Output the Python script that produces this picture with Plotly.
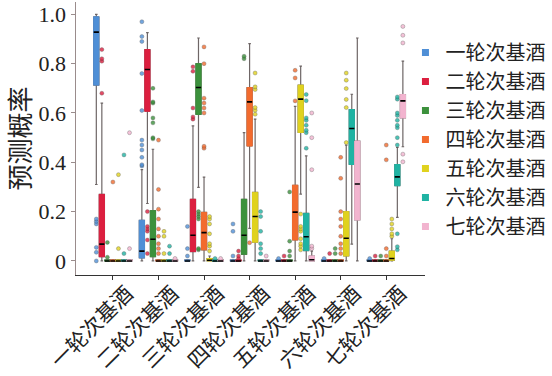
import plotly.graph_objects as go

categories = ["一轮次基酒", "二轮次基酒", "三轮次基酒", "四轮次基酒",
              "五轮次基酒", "六轮次基酒", "七轮次基酒"]
series = categories[:]
colors = ["#4f8fd6", "#dc1f3f", "#3c913c", "#f26b2e", "#e0d21e", "#1fb3a3", "#f2b4cf"]

# rows = series (predicted class), columns = category (true class)
LOWER = [
    [0.31, 0.0, 0.0, 0.0, 0.0, 0.0, 0.0],
    [0.0, 0.233, 0.0, 0.0, 0.0, 0.0, 0.0],
    [0.0, 0.0, 0.298, 0.0, 0.0, 0.0, 0.0],
    [0.0, 0.0, 0.0, 0.132, 0.0, 0.0, 0.0],
    [0.0, 0.0, 0.0, 0.0, 0.271, 0.0, 0.0],
    [0.0, 0.0, 0.0, 0.0, 0.0, 0.068, 0.177],
    [0.0, 0.0, 0.0, 0.0, 0.0, 0.0, 0.463],
]
Q1 = [
    [0.713, 0.012, 0.0, 0.0, 0.0, 0.0, 0.0],
    [0.017, 0.607, 0.038, 0.0, 0.0, 0.0, 0.0],
    [0.0, 0.017, 0.594, 0.027, 0.0, 0.0, 0.0],
    [0.0, 0.0, 0.045, 0.466, 0.085, 0.0, 0.0],
    [0.0, 0.0, 0.0, 0.076, 0.521, 0.02, 0.003],
    [0.0, 0.0, 0.0, 0.0, 0.042, 0.391, 0.305],
    [0.0, 0.0, 0.0, 0.0, 0.0, 0.166, 0.58],
]
MEDIAN = [
    [0.928, 0.04, 0.0, 0.0, 0.0, 0.0, 0.0],
    [0.068, 0.776, 0.104, 0.0, 0.0, 0.0, 0.0],
    [0.0, 0.088, 0.703, 0.104, 0.0, 0.0, 0.0],
    [0.0, 0.0, 0.115, 0.645, 0.198, 0.0, 0.0],
    [0.0, 0.0, 0.003, 0.18, 0.656, 0.092, 0.01],
    [0.0, 0.0, 0.0, 0.0, 0.098, 0.537, 0.341],
    [0.0, 0.0, 0.0, 0.0, 0.005, 0.312, 0.649],
]
Q3 = [
    [0.99, 0.165, 0.004, 0.004, 0.004, 0.004, 0.004],
    [0.27, 0.857, 0.25, 0.004, 0.004, 0.004, 0.004],
    [0.004, 0.204, 0.80, 0.25, 0.004, 0.004, 0.004],
    [0.004, 0.004, 0.197, 0.703, 0.307, 0.004, 0.004],
    [0.004, 0.004, 0.01, 0.278, 0.713, 0.20, 0.04],
    [0.004, 0.004, 0.004, 0.004, 0.193, 0.614, 0.391],
    [0.004, 0.004, 0.004, 0.004, 0.02, 0.486, 0.675],
]
UPPER = [
    [1.0, 0.37, 0.005, 0.005, 0.005, 0.005, 0.005],
    [0.64, 0.926, 0.548, 0.005, 0.005, 0.005, 0.005],
    [0.005, 0.453, 0.904, 0.52, 0.005, 0.005, 0.005],
    [0.005, 0.005, 0.34, 0.881, 0.627, 0.005, 0.005],
    [0.005, 0.005, 0.02, 0.575, 0.79, 0.47, 0.09],
    [0.005, 0.005, 0.005, 0.005, 0.426, 0.676, 0.46],
    [0.005, 0.005, 0.005, 0.005, 0.04, 0.904, 0.81],
]
OUTLIERS = [
    [[0.17, 0.16, 0.15, 0.055, 0.035, 0.0],
     [0.97, 0.91, 0.89, 0.76, 0.61, 0.49, 0.47, 0.45, 0.42, 0.39, 0.385],
     [0.14, 0.05, 0.02], [0.15, 0.12, 0.02], [0.01], [0.01], [0.01]],
    [[0.857, 0.82, 0.81, 0.68],
     [0.2, 0.14, 0.13, 0.12, 0.085, 0.03],
     [0.787, 0.769, 0.62, 0.584, 0.575],
     [0.04, 0.02, 0.01], [0.02], [0.03], [0.02]],
    [[0.075, 0.015],
     [0.70, 0.645, 0.64, 0.58, 0.56, 0.50, 0.495],
     [0.2, 0.19, 0.18, 0.17, 0.05, 0.045],
     [0.83, 0.82], [0.28, 0.08, 0.04, 0.02], [0.05, 0.03], [0.02]],
    [[0.32], [0.49, 0.29, 0.21, 0.17, 0.13, 0.1, 0.07, 0.05, 0.03],
     [0.868, 0.80, 0.66, 0.64, 0.62, 0.60, 0.465, 0.457],
     [0.074], [0.773, 0.742, 0.649],
     [0.42, 0.335, 0.2, 0.17, 0.14, 0.1, 0.07, 0.05, 0.03],
     [0.47, 0.41, 0.05, 0.02]],
    [[0.35, 0.05], [0.12, 0.1, 0.03],
     [0.18, 0.17, 0.15, 0.11, 0.07, 0.06, 0.04],
     [0.762, 0.706, 0.695, 0.622, 0.611, 0.595],
     [0.19, 0.14, 0.13, 0.12, 0.09, 0.07, 0.06, 0.045],
     [0.762, 0.733, 0.699, 0.655, 0.622, 0.48],
     [0.17, 0.15, 0.13, 0.11, 0.1]],
    [[0.43, 0.03], [0.06, 0.03], [0.01],
     [0.2, 0.18, 0.12, 0.07, 0.05, 0.03],
     [0.675, 0.65, 0.58, 0.57, 0.55, 0.53, 0.52, 0.457],
     [],
     [0.665, 0.656, 0.6, 0.59, 0.57, 0.55, 0.54, 0.5, 0.47, 0.11, 0.058, 0.045]],
    [[0.52, 0.05], [0.01], [0.01], [0.02], [0.6, 0.5, 0.37, 0.06, 0.05], [],
     [0.951, 0.915, 0.884, 0.433, 0.402]],
]
yticks = [0, 0.2, 0.4, 0.6, 0.8, 1.0]
yticklabels = ["0", "0.2", "0.4", "0.6", "0.8", "1.0"]

FONT = "Liberation Serif, Noto Sans CJK SC, serif"

fig = go.Figure()
for k, name in enumerate(series):
    c = colors[k]
    common = dict(x=categories, offsetgroup=name, alignmentgroup="all",
                  showlegend=False, hoverinfo="skip")
    # whiskers + outlier points
    fig.add_trace(go.Box(
        q1=Q1[k], median=MEDIAN[k], q3=Q3[k],
        lowerfence=LOWER[k], upperfence=UPPER[k],
        y=OUTLIERS[k], boxpoints="outliers", jitter=0, pointpos=0,
        marker=dict(color=c, size=4, opacity=0.8,
                    line=dict(color="rgba(60,60,60,0.7)", width=0.5)),
        line=dict(color="#6e6666", width=1.2), whiskerwidth=0.5,
        fillcolor="rgba(0,0,0,0)", **common))
    # coloured box body
    fig.add_trace(go.Box(
        q1=Q1[k], median=MEDIAN[k], q3=Q3[k],
        lowerfence=Q1[k], upperfence=Q3[k], boxpoints=False,
        line=dict(color=c, width=1), fillcolor=c, whiskerwidth=0, **common))
    # black median line
    fig.add_trace(go.Box(
        q1=MEDIAN[k], median=MEDIAN[k], q3=MEDIAN[k],
        lowerfence=MEDIAN[k], upperfence=MEDIAN[k], boxpoints=False,
        line=dict(color="black", width=1.6), fillcolor="black",
        whiskerwidth=0, **common))
    # legend entry
    fig.add_trace(go.Scatter(
        x=[None], y=[None], mode="markers", name=name,
        marker=dict(symbol="square", size=7, color=c)))

fig.update_layout(
    template="none",
    width=552, height=376,
    margin=dict(l=76, r=125, t=2, b=101),
    paper_bgcolor="white", plot_bgcolor="white",
    boxmode="group", boxgroupgap=0.06, boxgap=0.15,
    font=dict(family=FONT, size=20, color="#222"),
    legend=dict(x=0.944, xanchor="left", y=0.886, yanchor="top",
                font=dict(size=20, family=FONT), tracegroupgap=0,
                itemwidth=30, bgcolor="rgba(0,0,0,0)"),
    xaxis=dict(type="category", categoryorder="array", categoryarray=categories,
               range=[-0.81, 6.85], showline=True, linecolor="#333", linewidth=1,
               ticks="outside", ticklen=4, tickcolor="#333", tickangle=-45,
               ticklabelstandoff=-7, ticklabelshift=14, automargin=False,
               tickfont=dict(size=21, family=FONT), showgrid=False, zeroline=False),
    yaxis=dict(range=[-0.057, 1.05], tickvals=yticks, ticktext=yticklabels,
               showline=True, linecolor="#9a8c8c", linewidth=1.5,
               ticks="outside", ticklen=4, tickcolor="#9a8c8c", automargin=False,
               tickfont=dict(size=22, family=FONT), showgrid=False, zeroline=False,
               title=dict(text="预测概率", font=dict(size=26, family=FONT), standoff=0)),
)

fig.write_html("out.html", config={"displayModeBar": False, "staticPlot": True},
               post_script="document.body.style.margin='0';document.body.style.padding='0';")
